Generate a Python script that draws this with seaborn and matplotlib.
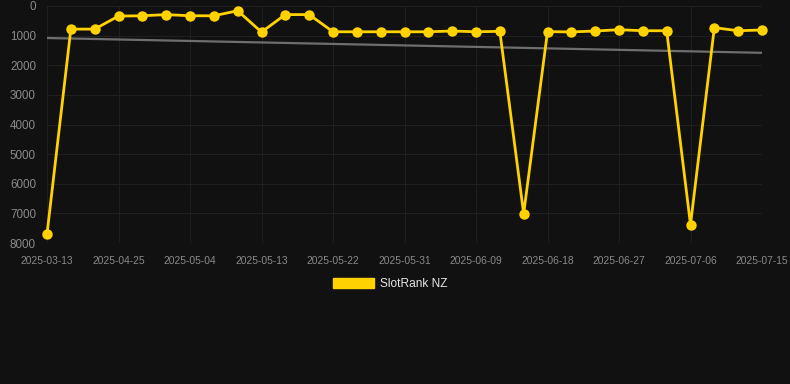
import numpy as np
import pandas as pd
import matplotlib
matplotlib.use("Agg")
import matplotlib.pyplot as plt
import seaborn as sns
from matplotlib.patches import Patch

# ---- data ----
rank_values = [7700, 780, 780, 340, 330, 290, 330, 330, 160, 880,
               290, 290, 870, 870, 870, 870, 870, 845, 870, 855,
               7010, 865, 875, 845, 800, 835, 835, 7380, 730, 835, 810]
tick_labels = ["2025-03-13", "2025-04-25", "2025-05-04", "2025-05-13",
               "2025-05-22", "2025-05-31", "2025-06-09", "2025-06-18",
               "2025-06-27", "2025-07-06", "2025-07-15"]
y_ticks = [0, 1000, 2000, 3000, 4000, 5000, 6000, 7000, 8000]
series_name = "SlotRank NZ"

df = pd.DataFrame({"idx": np.arange(len(rank_values)), "rank": rank_values})

BG = "#111111"
GOLD = "#FFD200"
GRID = "#1f1f1f"
TXT = "#8a8a8a"

sns.set_theme(style="dark")
plt.rcParams["font.family"] = ["Liberation Sans", "DejaVu Sans"]

fig = plt.figure(figsize=(7.9, 3.84), dpi=100, facecolor=BG)
ax = fig.add_axes([47 / 790, 1 - 243 / 384, (762 - 47) / 790, (243 - 6) / 384])
ax.set_facecolor(BG)

# trend line (linear regression of the series)
sns.regplot(data=df, x="idx", y="rank", scatter=False, ci=None, truncate=True,
            line_kws=dict(color="#6e6e6e", lw=1.6, zorder=2), ax=ax)

sns.lineplot(data=df, x="idx", y="rank", color=GOLD, lw=2.0, marker="o",
             markersize=7.5, markeredgewidth=0, ax=ax, zorder=3, clip_on=False)

ax.set_xlim(0, len(rank_values) - 1)
ax.set_ylim(8000, 0)
ax.set_xticks(np.arange(0, len(rank_values), 3))
ax.set_xticklabels(tick_labels)
ax.set_yticks(y_ticks)
ax.set_yticklabels([str(v) for v in y_ticks])
ax.tick_params(axis="x", colors=TXT, labelsize=7.4, length=0, pad=9)
ax.tick_params(axis="y", colors=TXT, labelsize=8.4, length=0, pad=8)
ax.grid(True, color=GRID, lw=0.8)
ax.set_axisbelow(True)
for s in ax.spines.values():
    s.set_visible(False)
ax.set_xlabel("")
ax.set_ylabel("")

handle = Patch(facecolor=GOLD, edgecolor=GOLD, label=series_name)
leg = fig.legend(handles=[handle], loc="center", bbox_to_anchor=(390 / 790, 1 - 284 / 384),
                 frameon=False, fontsize=8.6, handlelength=3.4, handleheight=0.95,
                 handletextpad=0.5, labelcolor="#e6e6e6")

fig.savefig("out.png", dpi=100, facecolor=BG)
